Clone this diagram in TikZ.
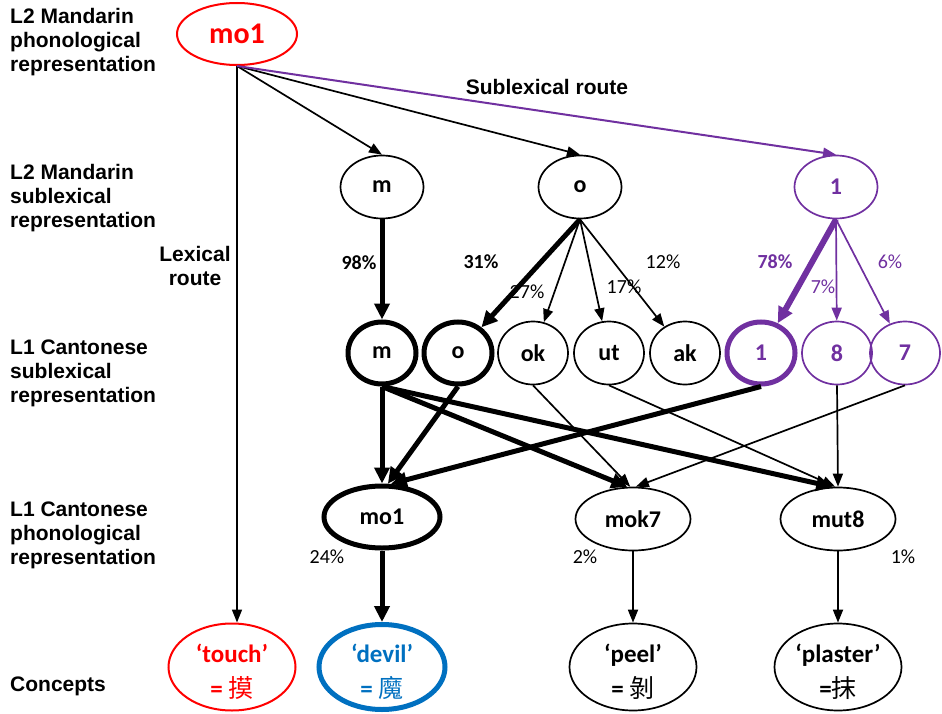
\documentclass[tikz,border=0pt]{standalone}
\usepackage{fontspec}
\setmainfont{Carlito}
\newfontfamily\arialfont{Liberation Sans}
\newfontfamily\cjk{Noto Sans CJK TC}
\usetikzlibrary{shapes.geometric,arrows.meta}
\definecolor{mred}{HTML}{FF0000}
\definecolor{mpurple}{HTML}{7030A0}
\definecolor{mblue}{HTML}{0070C0}

% lower a line of text without changing the box it occupies
\newcommand\lowtxt[1]{\raisebox{-5pt}[\height][\depth]{#1}}

\tikzset{
  ell/.style={ellipse, draw, line width=1.7pt, inner sep=0pt,
    font=\bfseries\fontsize{24}{26}\selectfont},
  subell/.style={ell, minimum width=83pt, minimum height=63pt},
  circ/.style={ell, minimum width=70pt, minimum height=63pt},
  phon/.style={ell, minimum width=115pt, minimum height=63pt},
  concept/.style={ell, minimum width=127pt, minimum height=87pt, align=center,
    font=\bfseries\fontsize{25}{35}\selectfont},
  heavy/.style={line width=5pt},
  lbl/.style={font=\arialfont\bfseries\fontsize{21}{24}\selectfont,
    align=left, anchor=west, inner sep=0pt},
  pct/.style={font=\fontsize{20}{22}\selectfont, inner sep=0pt},
  bpct/.style={pct, font=\bfseries\fontsize{20}{22}\selectfont},
  arrthin/.style={line width=1.7pt, -{Triangle[length=13pt,width=10pt]}},
  arrfat/.style={line width=5pt, -{Triangle[length=16pt,width=15pt]}},
}

\begin{document}
\begin{tikzpicture}[x=1pt,y=-1pt]
\useasboundingbox (0,0) rectangle (942,714);

% level labels
\node[lbl] (lab1) at (10,42) {L2 Mandarin\\phonological\\representation};
\node[lbl] (lab2) at (10,198) {L2 Mandarin\\sublexical\\representation};
\node[lbl] (lab3) at (10,373) {L1 Cantonese\\sublexical\\representation};
\node[lbl] (lab4) at (10,535) {L1 Cantonese\\phonological\\representation};
\node[lbl] (lab5) at (10,686) {Concepts};
\node[lbl, anchor=center, align=center] (lexr) at (195,266) {Lexical\\route};
\node[lbl, anchor=center] (subr) at (547,87) {Sublexical route};

% L2 Mandarin phonological
\node[ell, draw=mred, text=mred, line width=2pt, minimum width=120pt,
  minimum height=62pt, font=\bfseries\fontsize{30}{32}\selectfont] (top) at (237,34) {mo1};

% L2 Mandarin sublexical
\node[subell] (sm) at (382,187) {m};
\node[subell] (so) at (580,187) {o};
\node[subell, draw=mpurple, text=mpurple] (s1) at (836,187) {1};

% L1 Cantonese sublexical
\node[circ, heavy, minimum width=68pt, minimum height=62pt] (cm) at (382,353) {m};
\node[circ, heavy, minimum width=68pt, minimum height=62pt] (co) at (458,353) {o};
\node[circ] (cok) at (533,353) {ok};
\node[circ] (cut) at (609,353) {ut};
\node[circ] (cak) at (685,353) {ak};
\node[circ, heavy, minimum width=68pt, minimum height=62pt, draw=mpurple, text=mpurple] (c1) at (761,353) {1};
\node[circ, draw=mpurple, text=mpurple] (c8) at (837,353) {8};
\node[circ, draw=mpurple, text=mpurple] (c7) at (905,353) {7};

% L1 Cantonese phonological
\node[phon, heavy, minimum width=116pt, minimum height=62pt] (pmo) at (382,517) {mo1};
\node[phon] (pmok) at (633,519) {mok7};
\node[phon] (pmut) at (838,519) {mut8};

% concepts
\node[concept, draw=mred, text=mred, line width=2pt] (ctouch) at (232,667) {\lowtxt{‘touch’}\\\lowtxt{= {\cjk\mdseries 摸}}};
\node[concept, heavy, draw=mblue, text=mblue, minimum width=126pt, minimum height=85pt] (cdevil) at (382,667) {\lowtxt{‘devil’}\\\lowtxt{= {\cjk\mdseries 魔}}};
\node[concept] (cpeel) at (633,667) {\lowtxt{‘peel’}\\\lowtxt{= {\cjk\mdseries 剝}}};
\node[concept] (cplaster) at (838,667) {\lowtxt{‘plaster’}\\\lowtxt{={\cjk\mdseries 抹}}};

% lexical and sublexical routes from mo1
\draw[arrthin] (top.south) -- (top.south |- ctouch.north);
\draw[arrthin] (top.south) -- (sm.north);
\draw[arrthin] (top.south) -- (so.north);
\draw[arrthin, mpurple, line width=2pt] (top.south) -- (s1.north);

% Mandarin segments to Cantonese segments
\draw[arrfat] (sm.south) -- (cm.north);
\draw[arrfat] (so.south) -- (co);
\draw[arrthin] (so.south) -- (cok);
\draw[arrthin] (so.south) -- (cut);
\draw[arrthin] (so.south) -- (cak);
\draw[arrfat, mpurple, line width=6pt] (s1.south) -- (c1);
\draw[arrthin, mpurple] (s1.south) -- (c8);
\draw[arrthin, mpurple] (s1.south) -- (c7);

% Cantonese segments to syllables
\draw[arrfat] (cm.south) -- (pmo.north);
\draw[arrfat] (cm.south) -- (pmok.100);
\draw[arrfat] (cm.south) -- (pmut.100);
\draw[arrfat] (co.south) -- (pmo.80);
\draw[arrfat] (c1.south) -- (pmo.75);
\draw[arrthin] (cok.south) -- (pmok.95);
\draw[arrthin] (c7.south) -- (pmok.85);
\draw[arrthin] (cut.south) -- (pmut.95);
\draw[arrthin] (c8.south) -- (pmut.north);

% syllables to concepts
\draw[arrfat] (pmo.south) -- (cdevil.north);
\draw[arrthin] (pmok.south) -- (cpeel.north);
\draw[arrthin] (pmut.south) -- (cplaster.north);

% percentages
\node[bpct] (p98) at (359,263) {98\%};
\node[bpct] (p31) at (481,262) {31\%};
\node[pct] (p27) at (527,292) {27\%};
\node[pct] (p17) at (624,287) {17\%};
\node[pct] (p12) at (663,262) {12\%};
\node[bpct, text=mpurple] (p78) at (775,262) {78\%};
\node[pct, text=mpurple] (p7) at (823,287) {7\%};
\node[pct, text=mpurple] (p6) at (890,262) {6\%};
\node[pct] (p24) at (327,557) {24\%};
\node[pct] (p2) at (585,557) {2\%};
\node[pct] (p1) at (903,557) {1\%};
\end{tikzpicture}
\end{document}
